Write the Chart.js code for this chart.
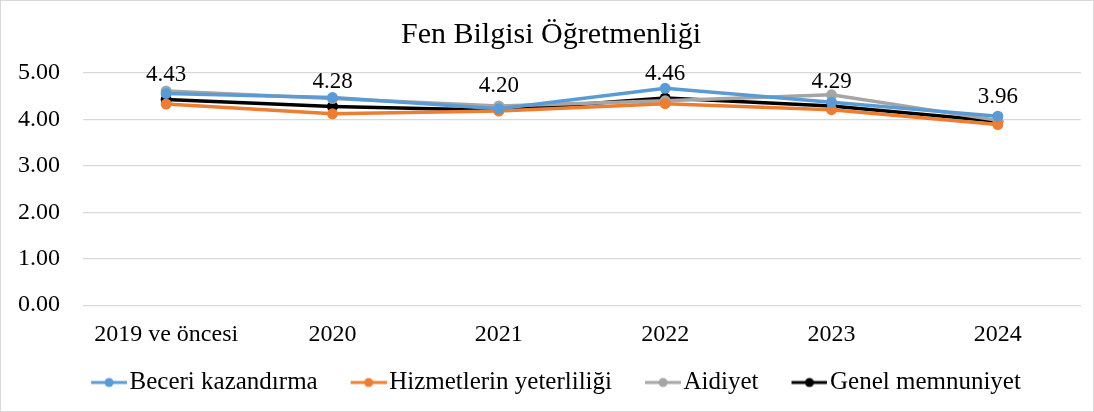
<!DOCTYPE html>
<html>
<head>
<meta charset="utf-8">
<script src="https://cdn.jsdelivr.net/npm/chart.js@4"></script>
<style>
  body { margin: 0; background: #fff; }
  #wrap { width: 1094px; height: 412px; box-sizing: border-box; border: 1px solid #d9d9d9; }
</style>
</head>
<body>
<div id="wrap"><canvas id="chart" width="1092" height="410"></canvas></div>
<script>
// data
const years = ["2019 ve öncesi", "2020", "2021", "2022", "2023", "2024"];
const beceri = [4.56, 4.47, 4.23, 4.67, 4.37, 4.07];
const hizmet = [4.33, 4.12, 4.18, 4.34, 4.21, 3.89];
const aidiyet = [4.61, 4.45, 4.29, 4.40, 4.53, 3.98];
const genel = [4.43, 4.28, 4.20, 4.46, 4.29, 3.96];
const yTicks = [0, 1, 2, 3, 4, 5];

const font = "'Liberation Serif', 'Times New Roman', serif";
Chart.defaults.font.family = font;
Chart.defaults.color = "#000";

// legend marker: line with dot, shifted right so it sits close to the text
function legendIcon(color) {
  const c = document.createElement("canvas");
  c.width = 56; c.height = 12;
  const g = c.getContext("2d");
  g.strokeStyle = color; g.lineWidth = 3;
  g.beginPath(); g.moveTo(20, 6); g.lineTo(56, 6); g.stroke();
  g.fillStyle = color;
  g.beginPath(); g.arc(38, 6, 4.5, 0, Math.PI * 2); g.fill();
  return c;
}

function series(label, data, color) {
  return {
    label: label,
    data: data,
    borderColor: color,
    backgroundColor: color,
    borderWidth: 3.5,
    pointRadius: 5.5,
    pointBorderWidth: 0,
    pointBackgroundColor: color,
    pointStyle: "circle",
    tension: 0
  };
}

//labels above the black series
const valueLabels = {
  id: "valueLabels",
  afterDatasetsDraw(chart) {
    const ctx = chart.ctx;
    const meta = chart.getDatasetMeta(3);
    ctx.save();
    ctx.font = "23px " + font;
    ctx.fillStyle = "#000";
    ctx.textAlign = "center";
    ctx.textBaseline = "alphabetic";
    meta.data.forEach((pt, i) => {
      ctx.fillText(genel[i].toFixed(2), pt.x, pt.y - 18);
    });
    ctx.restore();
  }
};

// nudge legend and title a bit to the right
const boxShift = {
  id: "boxShift",
  afterLayout(chart) {
    [chart.legend, chart.titleBlock].forEach(b => {
      b.left += 13;
      b.right += 13;
    });
  }
};

const chart = new Chart(document.getElementById("chart"), {
  type: "line",
  data: {
    labels: years,
    datasets: [
      series("Beceri kazandırma", beceri, "#5b9bd5"),
      series("Hizmetlerin yeterliliği", hizmet, "#ed7d31"),
      series("Aidiyet", aidiyet, "#a5a5a5"),
      series("Genel memnuniyet", genel, "#000000")
    ]
  },
  plugins: [valueLabels, boxShift],
  options: {
    responsive: false,
    animation: false,
    layout: { padding: { left: -6, right: 12, top: 2, bottom: 6 } },
    plugins: {
      title: {
        display: true,
        text: "Fen Bilgisi Öğretmenliği",
        color: "#000",
        font: { family: font, size: 30, weight: "normal" },
        padding: { top: 14, bottom: 20 }
      },
      legend: {
        position: "bottom",
        labels: {
          usePointStyle: true,
          pointStyleWidth: 36,
          boxHeight: 12,
          color: "#000",
          font: { family: font, size: 25 },
          padding: 23,
          generateLabels(chart) {
            return chart.data.datasets.map((ds, i) => ({
              text: ds.label,
              pointStyle: legendIcon(ds.borderColor),
              fillStyle: ds.borderColor,
              strokeStyle: ds.borderColor,
              lineWidth: 0,
              hidden: false,
              datasetIndex: i
            }));
          }
        }
      },
      tooltip: { enabled: false }
    },
    scales: {
      x: {
        offset: true,
        grid: { display: false },
        border: { display: false },
        afterFit(scale) { scale.height -= 9; },
        ticks: { color: "#000", font: { family: font, size: 24 }, padding: 7, maxRotation: 0 }
      },
      y: {
        min: 0,
        max: 5,
        afterBuildTicks(axis) { axis.ticks = yTicks.map(v => ({ value: v })); },
        grid: { color: "#d9d9d9", lineWidth: 1.3, drawTicks: false },
        border: { display: false },
        ticks: {
          color: "#000",
          font: { family: font, size: 24 },
          padding: 23,
          callback: v => v.toFixed(2)
        }
      }
    }
  }
});
</script>
</body>
</html>
